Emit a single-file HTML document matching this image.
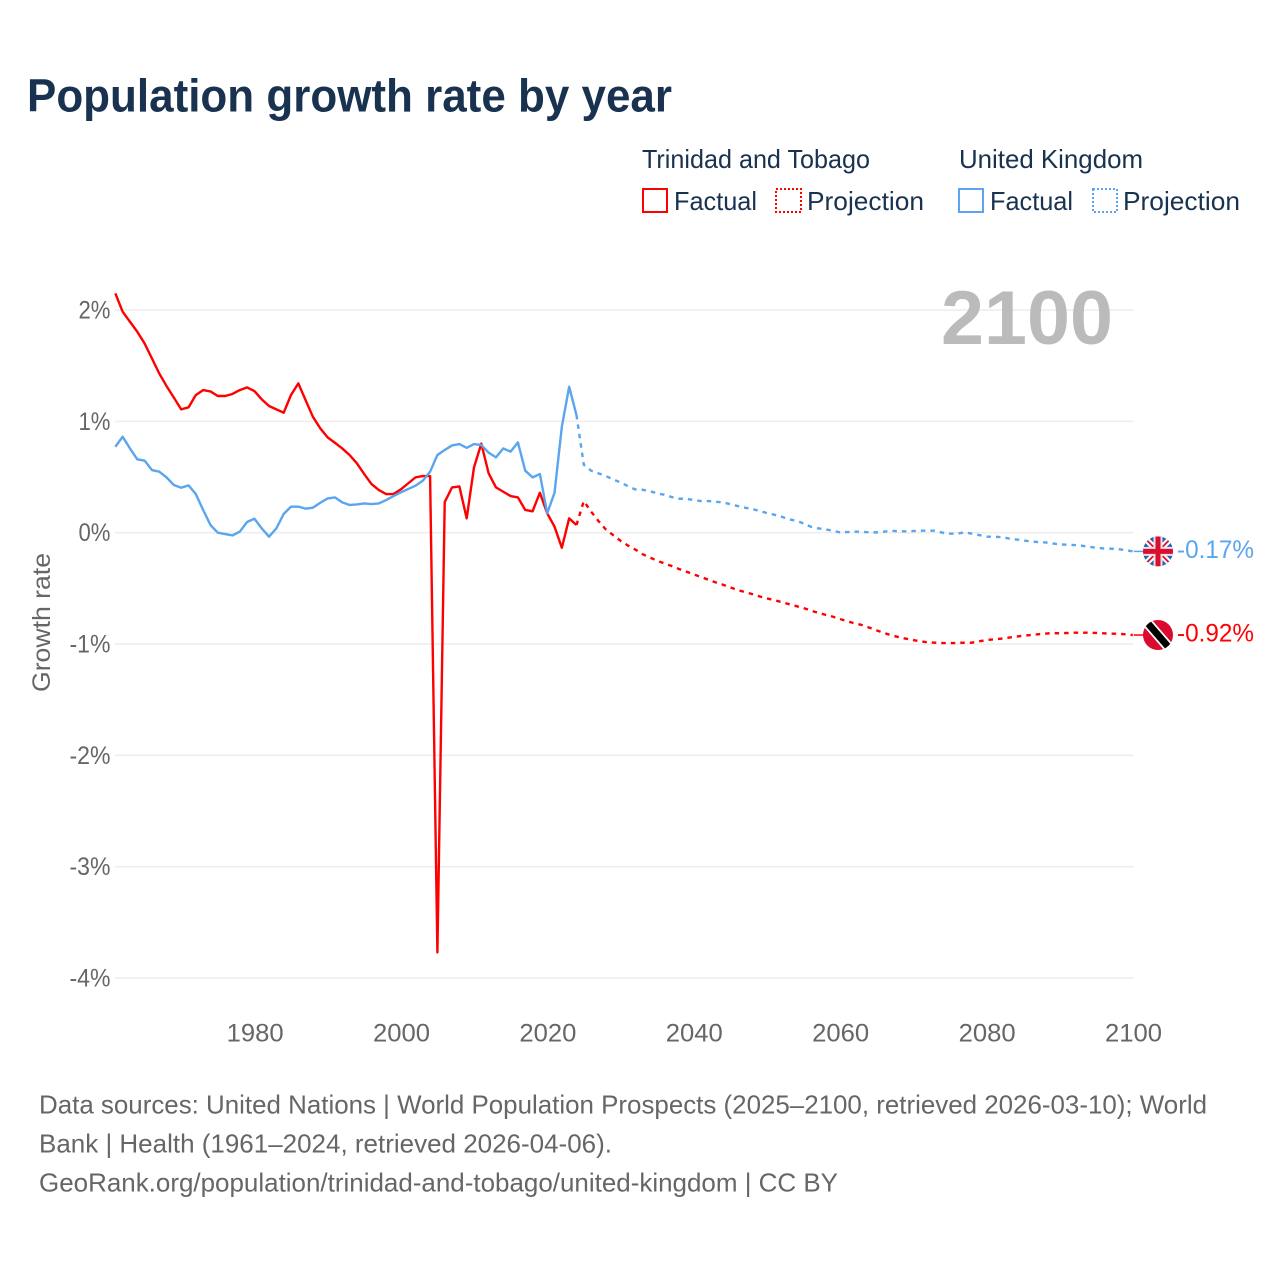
<!DOCTYPE html>
<html lang="en">
<head>
<meta charset="utf-8">
<title>Population growth rate by year</title>
<style>
html,body{margin:0;padding:0;background:#fff;}
svg{display:block;font-family:"Liberation Sans",Arial,sans-serif;}
.tick{font-size:25px;fill:#666;}
.foot{font-size:26px;fill:#666;}
.leg{font-size:26px;fill:#18324f;}
</style>
</head>
<body>
<svg id="chart" width="1280" height="1280" viewBox="0 0 1280 1280" xmlns="http://www.w3.org/2000/svg">
  <defs>
    <clipPath id="flagClipUk"><circle cx="0" cy="0" r="15"/></clipPath>
    <clipPath id="flagClipTt"><circle cx="0" cy="0" r="15"/></clipPath>
  </defs>
  <rect width="1280" height="1280" fill="#fff"/>
  <text x="27" y="111.5" font-size="46" font-weight="700" fill="#18324f" textLength="645" lengthAdjust="spacingAndGlyphs">Population growth rate by year</text>

  <g>
    <text class="leg" x="642" y="168" textLength="228" lengthAdjust="spacingAndGlyphs">Trinidad and Tobago</text>
    <text class="leg" x="959" y="168" textLength="184" lengthAdjust="spacingAndGlyphs">United Kingdom</text>
    <rect x="643" y="189" width="24" height="23" fill="none" stroke="#ff0000" stroke-width="2"/>
    <text class="leg" x="674" y="210" textLength="83" lengthAdjust="spacingAndGlyphs">Factual</text>
    <rect x="776" y="189" width="25" height="23" fill="none" stroke="#ff0000" stroke-width="2" stroke-dasharray="2 2"/>
    <text class="leg" x="807" y="210" textLength="117" lengthAdjust="spacingAndGlyphs">Projection</text>
    <rect x="959" y="189" width="24" height="23" fill="none" stroke="#5aa5ef" stroke-width="2"/>
    <text class="leg" x="990" y="210" textLength="83" lengthAdjust="spacingAndGlyphs">Factual</text>
    <rect x="1093" y="189" width="24" height="23" fill="none" stroke="#5aa5ef" stroke-width="2" stroke-dasharray="2 2"/>
    <text class="leg" x="1123" y="210" textLength="117" lengthAdjust="spacingAndGlyphs">Projection</text>
  </g>

  <g id="grid"></g>
  <g id="yTicks"></g>
  <g id="xTicks"></g>

  <text transform="translate(50,692) rotate(-90)" font-size="25" fill="#666" textLength="139" lengthAdjust="spacingAndGlyphs">Growth rate</text>
  <text x="941" y="344" font-size="76" font-weight="700" fill="#bbbbbb" textLength="172" lengthAdjust="spacingAndGlyphs">2100</text>

  <g id="series"></g>

  <g id="flagUk">
    <g clip-path="url(#flagClipUk)">
      <rect x="-15" y="-15" width="30" height="30" fill="#1a63b8"/>
      <path d="M-15 -15L15 15M15 -15L-15 15" stroke="#fff" stroke-width="6"/>
      <path d="M-15 -15L15 15M15 -15L-15 15" stroke="#d80f30" stroke-width="1.8"/>
      <path d="M0 -15V15M-15 0H15" stroke="#f3dfe2" stroke-width="9"/>
      <path d="M0 -15V15M-15 0H15" stroke="#d80f30" stroke-width="5"/>
    </g>
  </g>
  <g id="flagTt">
    <g clip-path="url(#flagClipTt)">
      <rect x="-15" y="-15" width="30" height="30" fill="#da0b2f"/>
      <path d="M-13 -15L13 15" stroke="#fff" stroke-width="10.5"/>
      <path d="M-13 -15L13 15" stroke="#000" stroke-width="7"/>
    </g>
  </g>
  <text id="labelUk" x="1177" font-size="25" fill="#5aa5ef" textLength="77" lengthAdjust="spacingAndGlyphs"></text>
  <text id="labelTt" x="1177" font-size="25" fill="#ff0000" textLength="77" lengthAdjust="spacingAndGlyphs"></text>

  <text class="foot" x="39" y="1113.5" textLength="1168" lengthAdjust="spacingAndGlyphs">Data sources: United Nations | World Population Prospects (2025–2100, retrieved 2026-03-10); World</text>
  <text class="foot" x="39" y="1152.5" textLength="573" lengthAdjust="spacingAndGlyphs">Bank | Health (1961–2024, retrieved 2026-04-06).</text>
  <text class="foot" x="39" y="1191.5" textLength="799" lengthAdjust="spacingAndGlyphs">GeoRank.org/population/trinidad-and-tobago/united-kingdom | CC BY</text>
</svg>

<script>
const yTickValues = [2, 1, 0, -1, -2, -3, -4];
const xTickYears = [1980, 2000, 2020, 2040, 2060, 2080, 2100];
const factualStartYear = 1961;
const projectionStartYear = 2024;

const trinidadFactual = [2.15,1.985,1.895,1.805,1.70,1.566,1.43,1.317,1.213,1.108,1.126,1.237,1.281,1.269,1.228,1.228,1.246,1.281,1.305,1.272,1.198,1.138,1.108,1.078,1.237,1.341,1.19,1.04,0.937,0.856,0.808,0.757,0.698,0.623,0.527,0.437,0.383,0.347,0.347,0.389,0.443,0.497,0.509,0.509,-3.77,0.275,0.407,0.416,0.129,0.587,0.80,0.533,0.407,0.368,0.329,0.317,0.204,0.192,0.359,0.174,0.054,-0.135,0.129,0.069];
const trinidadProjection = [0.069,0.284,0.189,0.105,0.03,-0.021,-0.072,-0.114,-0.15,-0.192,-0.222,-0.251,-0.275,-0.299,-0.326,-0.35,-0.374,-0.398,-0.422,-0.446,-0.467,-0.491,-0.515,-0.533,-0.551,-0.572,-0.59,-0.605,-0.623,-0.641,-0.659,-0.677,-0.698,-0.72,-0.737,-0.754,-0.775,-0.796,-0.814,-0.829,-0.853,-0.877,-0.90,-0.922,-0.937,-0.952,-0.964,-0.976,-0.985,-0.988,-0.991,-0.991,-0.991,-0.988,-0.988,-0.976,-0.964,-0.958,-0.952,-0.943,-0.934,-0.925,-0.919,-0.913,-0.907,-0.901,-0.904,-0.901,-0.898,-0.898,-0.898,-0.90,-0.904,-0.907,-0.907,-0.913,-0.919];

const ukFactual = [0.772,0.862,0.757,0.659,0.647,0.563,0.548,0.497,0.428,0.404,0.425,0.347,0.204,0.069,0,-0.012,-0.024,0.009,0.096,0.126,0.039,-0.036,0.039,0.168,0.234,0.234,0.216,0.225,0.269,0.308,0.317,0.272,0.249,0.254,0.263,0.257,0.263,0.293,0.329,0.362,0.392,0.422,0.467,0.548,0.698,0.743,0.784,0.796,0.763,0.796,0.787,0.719,0.677,0.757,0.728,0.811,0.557,0.497,0.527,0.174,0.359,0.952,1.311,1.057];
const ukProjection = [1.057,0.61,0.557,0.533,0.509,0.479,0.452,0.419,0.389,0.386,0.374,0.353,0.341,0.32,0.305,0.305,0.293,0.284,0.284,0.278,0.272,0.257,0.24,0.225,0.213,0.195,0.177,0.162,0.144,0.12,0.108,0.084,0.054,0.039,0.03,0.018,0.003,0.006,0.009,0.009,0.003,0.003,0.009,0.018,0.012,0.012,0.015,0.018,0.018,0.018,0,-0.009,-0.009,0.003,-0.009,-0.021,-0.036,-0.036,-0.039,-0.051,-0.06,-0.069,-0.078,-0.084,-0.087,-0.096,-0.105,-0.108,-0.111,-0.117,-0.126,-0.135,-0.141,-0.144,-0.147,-0.156,-0.168];

const NS = 'http://www.w3.org/2000/svg';
function xScale(year) { return 400.8 + (year - 2000) * 7.32; }
function yScale(v) { return 532.7 - v * 111.33; }
function svgEl(tag, attrs, parent) {
  const el = document.createElementNS(NS, tag);
  for (const k in attrs) el.setAttribute(k, attrs[k]);
  parent.appendChild(el);
  return el;
}
function pointsFor(values, startYear) {
  return values.map(function (v, i) {
    return xScale(startYear + i).toFixed(2) + ',' + yScale(v).toFixed(2);
  }).join(' ');
}

const gridG = document.getElementById('grid');
const yG = document.getElementById('yTicks');
yTickValues.forEach(function (v) {
  const line = svgEl('line', {x1: 115, x2: 1133.5, y1: yScale(v), y2: yScale(v), stroke: '#eeeeee', 'stroke-width': 1.6}, gridG);
  
  
  const label = v + '%';
  const t = svgEl('text', {x: 110.5, y: yScale(v) + 8.5, 'text-anchor': 'end', class: 'tick', textLength: 9 * label.length + 14, lengthAdjust: 'spacingAndGlyphs'}, yG);
  
  
  t.textContent = label;
});

const xG = document.getElementById('xTicks');
xTickYears.forEach(function (yr) {
  const t = svgEl('text', {x: xScale(yr) + 0.7, y: 1041.5, 'text-anchor': 'middle', class: 'tick', textLength: 57, lengthAdjust: 'spacingAndGlyphs'}, xG);
  
  
  t.textContent = yr;
});

const seriesG = document.getElementById('series');
const RED = '#ff0000';
const BLUE = '#5aa5ef';
function drawLine(values, startYear, color, dashed) {
  const attrs = {points: pointsFor(values, startYear), fill: 'none', stroke: color, 'stroke-width': 2.4, 'stroke-linejoin': 'round'};
  if (dashed) attrs['stroke-dasharray'] = '4.5 5';
  return svgEl('polyline', attrs, seriesG);
}
const l1 = drawLine(trinidadProjection, projectionStartYear, RED, true);


const l2 = drawLine(trinidadFactual, factualStartYear, RED, false);


const l3 = drawLine(ukProjection, projectionStartYear, BLUE, true);


const l4 = drawLine(ukFactual, factualStartYear, BLUE, false);



const lastTt = trinidadProjection[trinidadProjection.length - 1];
const lastUk = ukProjection[ukProjection.length - 1];
const leadUk = svgEl('line', {x1: xScale(2100) + 1, x2: 1145, y1: yScale(lastUk), y2: yScale(lastUk), stroke: BLUE, 'stroke-width': 1.5}, seriesG);


const leadTt = svgEl('line', {x1: xScale(2100) + 1, x2: 1145, y1: yScale(lastTt), y2: yScale(lastTt), stroke: RED, 'stroke-width': 1.5}, seriesG);



document.getElementById('flagUk').setAttribute('transform', 'translate(1158,' + yScale(lastUk) + ')');
document.getElementById('flagTt').setAttribute('transform', 'translate(1158,' + yScale(lastTt) + ')');
const labelUk = document.getElementById('labelUk');
labelUk.setAttribute('y', yScale(lastUk) + 6.5);
labelUk.textContent = lastUk.toFixed(2) + '%';
const labelTt = document.getElementById('labelTt');
labelTt.setAttribute('y', yScale(lastTt) + 6.5);
labelTt.textContent = lastTt.toFixed(2) + '%';
</script>
</body>
</html>
